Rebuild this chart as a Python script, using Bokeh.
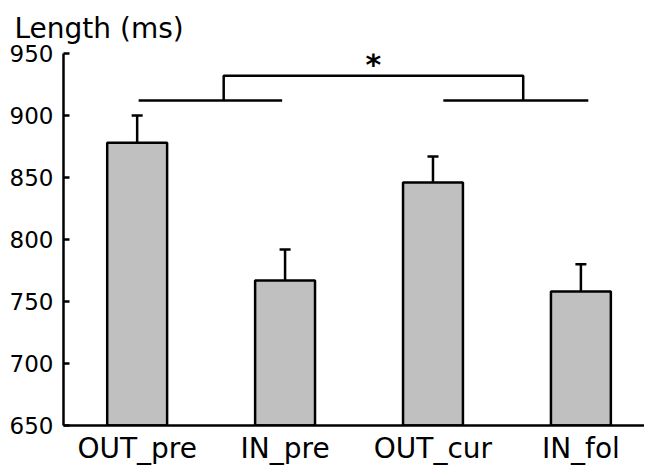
from bokeh.plotting import figure
from bokeh.models import Range1d, FixedTicker, Whisker, TeeHead, ColumnDataSource
from bokeh.core.properties import value
from bokeh.embed import file_html
from bokeh.resources import INLINE

categories = ["OUT_pre", "IN_pre", "OUT_cur", "IN_fol"]
means = [878, 767, 846, 758]
upper_err = [900, 792, 867, 780]
y_ticks = [650, 700, 750, 800, 850, 900, 950]

FONT = "DejaVu Sans"
xs = list(range(len(categories)))

p = figure(width=644, height=467, output_backend="svg", toolbar_location=None,
           x_range=Range1d(-0.498, 3.43), y_range=Range1d(650, 950),
           min_border_left=63, min_border_right=0, min_border_top=51, min_border_bottom=38,
           title="Length (ms)")
p.title.text_font = FONT
p.title.text_font_size = "28px"
p.title.text_font_style = "normal"
p.title.text_color = "black"
p.title.align = "left"
p.title.offset = -49
p.title.standoff = 18

p.outline_line_color = None
p.xgrid.visible = False
p.ygrid.visible = False
p.background_fill_color = "white"

src = ColumnDataSource(dict(x=xs, top=means, upper=upper_err))
p.vbar(x="x", top="top", bottom=650, width=0.405, source=src,
       fill_color="#c0c0c0", line_color="black", line_width=2.5)
p.add_layout(Whisker(base="x", upper="upper", lower="top", source=src,
                     line_width=2.5, line_color="black",
                     upper_head=TeeHead(size=11, line_width=2.5, line_color="black"),
                     lower_head=None))

# significance bracket
y_low, y_high = 912, 932
l0, l1 = xs[0] + 0.01, xs[1] - 0.02
r0, r1 = xs[2] + 0.07, xs[3] + 0.05
lm, rm = xs[0] + 0.585, xs[2] + 0.61
p.line([l0, l1], [y_low, y_low], line_color="black", line_width=2.5)
p.line([r0, r1], [y_low, y_low], line_color="black", line_width=2.5)
p.line([lm, lm, rm, rm], [y_low, y_high, y_high, y_low], line_color="black", line_width=2.5)
p.text(x=[(lm + rm) / 2], y=[941], text=["*"], text_font=value(FONT),
       text_font_style="bold", text_font_size="30px", text_align="center",
       text_baseline="middle", text_color="black")

p.yaxis.ticker = FixedTicker(ticks=y_ticks)
p.xaxis.ticker = FixedTicker(ticks=xs)
p.xaxis.major_label_overrides = {i: c for i, c in enumerate(categories)}
for ax in (p.xaxis, p.yaxis):
    ax.axis_line_width = 2.5
    ax.axis_line_color = "black"
    ax.minor_tick_line_color = None
    ax.major_label_text_font = FONT
    ax.major_label_text_color = "black"
p.yaxis.major_tick_in = 6
p.yaxis.major_tick_out = 0
p.yaxis.major_tick_line_width = 2.5
p.yaxis.major_label_text_font_size = "23px"
p.yaxis.major_label_standoff = 10
p.xaxis.major_tick_in = 0
p.xaxis.major_tick_out = 0
p.xaxis.major_label_text_font_size = "28px"
p.xaxis.major_label_standoff = 6

open("out.html", "w").write(file_html(p, INLINE))
